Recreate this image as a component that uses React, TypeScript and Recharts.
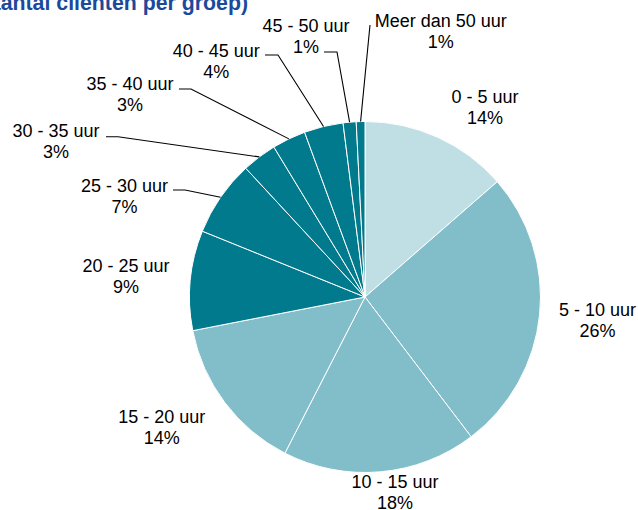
import React from 'react';
import { PieChart, Pie, Cell } from 'recharts';

const categories = [
  '0 - 5 uur',
  '5 - 10 uur',
  '10 - 15 uur',
  '15 - 20 uur',
  '20 - 25 uur',
  '25 - 30 uur',
  '30 - 35 uur',
  '35 - 40 uur',
  '40 - 45 uur',
  '45 - 50 uur',
  'Meer dan 50 uur',
];
const shares = [13.6, 26.1, 17.9, 14.4, 9.2, 7.0, 3.2, 3.1, 3.6, 1.2, 0.8];
const percentLabels = ['14%', '26%', '18%', '14%', '9%', '7%', '3%', '3%', '4%', '1%', '1%'];
const titleText = '(aantal cliënten per groep)';

const data = categories.map((name, i) => ({ name, value: shares[i] }));

const LIGHT = '#C0DFE4';
const MID = '#82BECA';
const DARK = '#007A8C';
const sliceColors = [LIGHT, MID, MID, MID, DARK, DARK, DARK, DARK, DARK, DARK, DARK];

// label layout: text centre x and first baseline, relative to pie centre
const labelLayout: { x: number; y: number; leader?: [number, number]; elbow?: number }[] = [
  { x: 120, y: -194.5 },
  { x: 232.5, y: 19 },
  { x: 30, y: 191.3 },
  { x: -203.3, y: 126.3 },
  { x: -239, y: -25.3 },
  { x: -240.5, y: -105.3, leader: [-192, -107], elbow: 12 },
  { x: -309, y: -160.3, leader: [-259, -160.3], elbow: 12 },
  { x: -235, y: -207, leader: [-186, -208], elbow: 12 },
  { x: -148.7, y: -240.3, leader: [-100, -242], elbow: 13 },
  { x: -59, y: -265.5, leader: [-41, -245], elbow: 13 },
  { x: 75.8, y: -270.3, leader: [5, -272], elbow: 0 },
];

const RAD = Math.PI / 180;
const FONT = '"Liberation Sans", Arial, sans-serif';

const renderLabel = (props: any) => {
  const { cx, cy, midAngle, outerRadius, index } = props;
  const lay = labelLayout[index];
  const tx = cx + lay.x;
  const ty = cy + lay.y;
  let line = null;
  if (lay.leader) {
    const sx = cx + lay.leader[0];
    const sy = cy + lay.leader[1];
    const ex = cx + outerRadius * Math.cos(-midAngle * RAD);
    const ey = cy + outerRadius * Math.sin(-midAngle * RAD);
    const pts = lay.elbow
      ? `${sx},${sy} ${sx + lay.elbow},${sy} ${ex},${ey}`
      : `${sx},${sy} ${ex},${ey}`;
    line = <polyline points={pts} fill="none" stroke="#000" strokeWidth={1.1} />;
  }
  return (
    <g key={`lbl-${index}`}>
      {line}
      <text x={tx} y={ty} textAnchor="middle" fontFamily={FONT} fontSize={18} fill="#000">
        {categories[index]}
      </text>
      <text x={tx} y={ty + 21} textAnchor="middle" fontFamily={FONT} fontSize={18} fill="#000">
        {percentLabels[index]}
      </text>
    </g>
  );
};

export default function App() {
  return (
    <div style={{ position: 'absolute', left: 0, top: 0, width: 638, height: 510, background: '#fff' }}>
      <PieChart width={638} height={510} margin={{ top: 0, right: 0, bottom: 0, left: 0 }}>
        <text
          x={248}
          y={10}
          textAnchor="end"
          fontFamily={FONT}
          fontWeight="bold"
          fontSize={21.3}
          fill="#1B4A9C"
        >
          {titleText}
        </text>
        <Pie
          data={data}
          dataKey="value"
          nameKey="name"
          cx={365}
          cy={297}
          outerRadius={175.5}
          startAngle={90}
          endAngle={-270}
          stroke="#fff"
          strokeWidth={1}
          label={renderLabel}
          labelLine={false}
          isAnimationActive={false}
        >
          {data.map((d, i) => (
            <Cell key={d.name} fill={sliceColors[i]} />
          ))}
        </Pie>
      </PieChart>
    </div>
  );
}
